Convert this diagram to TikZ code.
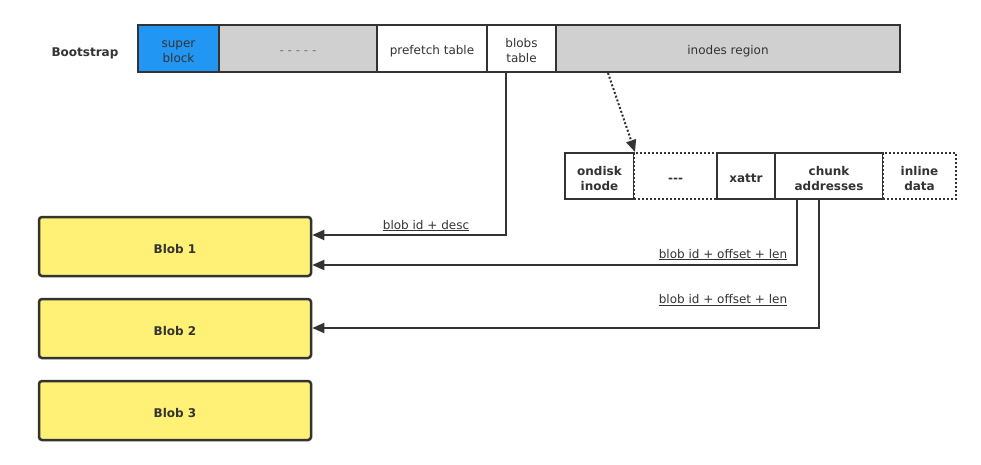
\documentclass[tikz,border=0pt]{standalone}
\usepackage{fontspec}
\setmainfont{DejaVu Sans}
\usetikzlibrary{arrows.meta}
\definecolor{ink}{HTML}{333333}
\definecolor{sblue}{HTML}{2196F3}
\definecolor{sgray}{HTML}{D0D0D0}
\definecolor{byellow}{HTML}{FFF176}
\tikzset{
  x=1pt,y=-1pt,
  cell/.style={draw=ink,line width=2pt,inner sep=0pt,text=ink,font=\fontsize{12}{15}\selectfont},
  icell/.style={cell,fill=white,font=\fontsize{12}{15}\selectfont\bfseries},
  dcell/.style={icell,dotted},
  blob/.style={draw=ink,line width=2.5pt,fill=byellow,rounded corners=3pt,text=ink,font=\fontsize{12}{15}\selectfont\bfseries},
  conn/.style={draw=ink,line width=1.8pt,-{Triangle[length=12pt,width=10pt]}},
  lab/.style={text=ink,font=\fontsize{12}{14}\selectfont,inner sep=0pt},
}
\newcommand{\ulab}[1]{\underline{#1}}
\newcommand{\ctext}[1]{\raisebox{-3.5pt}[\height][\depth]{\begin{tabular}{@{}c@{}}#1\end{tabular}}}
\begin{document}
\begin{tikzpicture}
\useasboundingbox[fill=white] (0,0) rectangle (981,465);
% bootstrap row
\node[text=ink,font=\fontsize{12}{14}\selectfont\bfseries] (boot) at (85,50) {\ctext{Bootstrap}};
\node[cell,fill=sblue,minimum width=81pt,minimum height=47pt] (sb) at (178.5,48.5) {\ctext{super\\block}};
\node[cell,fill=sgray,text=ink!70,minimum width=158pt,minimum height=47pt] (dash) at (298,48.5) {\ctext{- - - - -}};
\node[cell,fill=white,minimum width=110pt,minimum height=47pt] (pref) at (432,48.5) {\ctext{prefetch table}};
\node[cell,fill=white,minimum width=69pt,minimum height=47pt] (bt) at (521.5,48.5) {\ctext{blobs\\table}};
\node[cell,fill=sgray,minimum width=344pt,minimum height=47pt] (inodes) at (728,48.5) {\ctext{inodes region}};
% inode row
\node[icell,minimum width=69pt,minimum height=46pt] (od) at (599.5,176) {\ctext{ondisk\\inode}};
\node[dcell,minimum width=83pt,minimum height=46pt] (gap) at (675.5,176) {\ctext{{-}{-}{-}}};
\node[icell,minimum width=58pt,minimum height=46pt] (xa) at (746,176) {\ctext{xattr}};
\node[icell,minimum width=108pt,minimum height=46pt] (ca) at (829,176) {\ctext{chunk\\addresses}};
\node[dcell,minimum width=73pt,minimum height=46pt] (il) at (919.5,176) {\ctext{inline\\data}};
% blobs
\node[blob,minimum width=272pt,minimum height=59pt] (b1) at (175,246.5) {\ctext{Blob 1}};
\node[blob,minimum width=272pt,minimum height=59pt] (b2) at (175,328.5) {\ctext{Blob 2}};
\node[blob,minimum width=272pt,minimum height=59pt] (b3) at (175,410.5) {\ctext{Blob 3}};
% connectors
\coordinate (ds) at (608,73);
\draw[ink,line width=2pt,dotted,-{Triangle[length=12pt,width=10pt]}] (ds) -- (od.north east);
\draw[conn] (bt.south -| 506,0) |- (b1.east |- 0,235);
\draw[conn] (ca.south -| 797,0) |- (b1.east |- 0,265);
\draw[conn] (ca.south -| 819,0) |- (b2.east |- 0,328);
% labels
\node[lab,anchor=base] (l1) at (426,229) {\ulab{blob id + desc}};
\node[lab,anchor=base] (l2) at (723,258) {\ulab{blob id + offset + len}};
\node[lab,anchor=base] (l3) at (723,303.5) {\ulab{blob id + offset + len}};
\end{tikzpicture}
\end{document}
